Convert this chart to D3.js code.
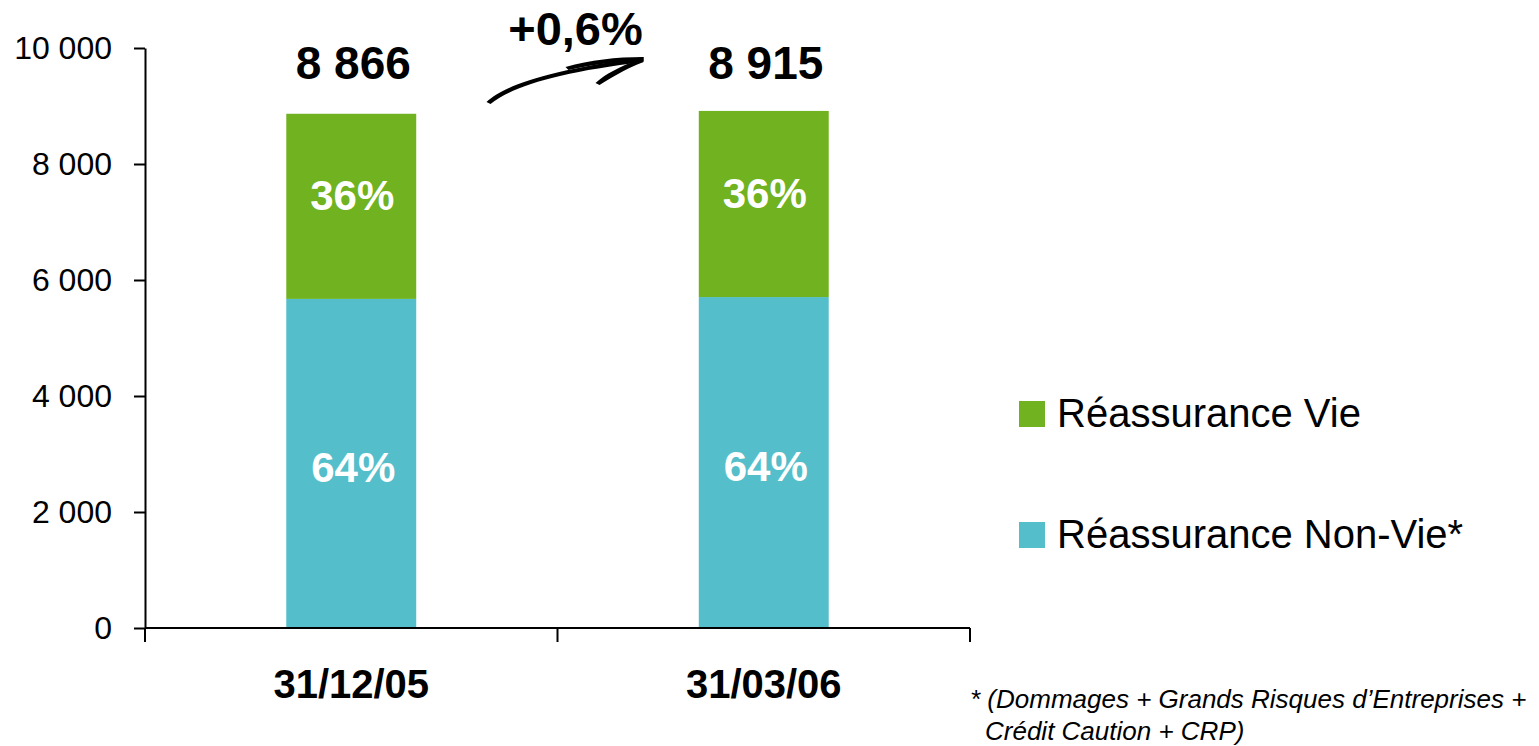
<!DOCTYPE html>
<html><head><meta charset="utf-8">
<script src="https://cdn.jsdelivr.net/npm/d3@7"></script>
<style>body{margin:0;background:#fff} svg{display:block} text{font-family:Arial,"Liberation Sans",sans-serif}</style>
</head><body><svg id="c" width="1539" height="746"></svg>
<script>
const categories = ["31/12/05", "31/03/06"];
const totals = [8866, 8915];
const nonVie = [5674, 5706];
const vie = [3192, 3209];
const nonViePct = ["64%", "64%"];
const viePct = ["36%", "36%"];
const yTicks = [0, 2000, 4000, 6000, 8000, 10000];
const seriesNames = ["Réassurance Vie", "Réassurance Non-Vie*"];
const seriesColors = ["#70B21F", "#55BECB"];
const growthLabel = "+0,6%";
const footnote = ["* (Dommages + Grands Risques d’Entreprises +", "Crédit Caution + CRP)"];

const svg = d3.select("#c");
const fmt = d3.formatLocale({decimal: ",", thousands: "\u00a0", grouping: [3], currency: ["", "€"]}).format(",d");

const y = d3.scaleLinear().domain([0, 10000]).range([628, 48]);
const x = d3.scaleBand().domain(categories).range([145, 970]).paddingInner(0.685).paddingOuter(0.3425);
const bw = x.bandwidth();
const half = (x.step() - bw) / 2;

// bars
const rows = categories.map((c, i) => ({c, i, nv: nonVie[i], v: vie[i], t: totals[i]}));
const g = svg.append("g");
g.selectAll("rect.nv").data(rows).join("rect")
  .attr("x", d => x(d.c)).attr("width", bw)
  .attr("y", d => y(d.nv)).attr("height", d => y(0) - y(d.nv))
  .attr("fill", seriesColors[1]);
g.selectAll("rect.v").data(rows).join("rect")
  .attr("x", d => x(d.c)).attr("width", bw)
  .attr("y", d => y(d.t)).attr("height", d => y(d.nv) - y(d.t))
  .attr("fill", seriesColors[0]);

// percent labels
g.selectAll("text.pnv").data(rows).join("text")
  .attr("x", d => x(d.c) + bw / 2 + 2).attr("y", d => (y(0) + y(d.nv)) / 2 + 4)
  .attr("dy", "0.35em").attr("text-anchor", "middle")
  .attr("fill", "#fff").attr("font-weight", "bold").attr("font-size", 42)
  .text(d => nonViePct[d.i]);
g.selectAll("text.pv").data(rows).join("text")
  .attr("x", d => x(d.c) + bw / 2 + 1).attr("y", d => (y(d.nv) + y(d.t)) / 2 - 11)
  .attr("dy", "0.35em").attr("text-anchor", "middle")
  .attr("fill", "#fff").attr("font-weight", "bold").attr("font-size", 42)
  .text(d => viePct[d.i]);

// totals
g.selectAll("text.tot").data(rows).join("text")
  .attr("x", d => x(d.c) + bw / 2 + 2).attr("y", y(10000) + 31)
  .attr("text-anchor", "middle").attr("font-weight", "bold").attr("font-size", 46)
  .text(d => fmt(d.t));

// y axis
const ya = svg.append("g").attr("transform", `translate(${x.range()[0]},0)`)
  .call(d3.axisLeft(y).tickValues(yTicks).tickSize(11).tickSizeOuter(0).tickPadding(22).tickFormat(fmt));
ya.selectAll("text").attr("font-size", 32).attr("font-family", "Arial, 'Liberation Sans', sans-serif").attr("fill", "#000");
ya.selectAll("line").attr("stroke", "#000").attr("stroke-width", 2);
ya.select(".domain").attr("stroke", "#000").attr("stroke-width", 2);

// x axis
const bounds = categories.map(c => x(c) - half).concat([x(categories[categories.length - 1]) + bw + half]);
svg.append("line").attr("x1", bounds[0]).attr("x2", bounds[bounds.length - 1])
  .attr("y1", y(0)).attr("y2", y(0)).attr("stroke", "#000").attr("stroke-width", 2);
svg.selectAll("line.xt").data(bounds).join("line")
  .attr("x1", d => d).attr("x2", d => d).attr("y1", y(0)).attr("y2", y(0) + 14)
  .attr("stroke", "#000").attr("stroke-width", 2);
svg.selectAll("text.xl").data(categories).join("text")
  .attr("text-anchor", "middle").attr("font-weight", "bold").attr("font-size", 40)
  .attr("transform", c => `translate(${x(c) + bw / 2},${y(0) + 70})`)
  .text(c => c);

// growth annotation
const mid = bounds[1];
const ag = svg.append("g").attr("transform", `translate(${mid},0)`);
ag.append("text").attr("x", 18).attr("y", 45).attr("text-anchor", "middle")
  .attr("font-weight", "bold").attr("font-size", 47).text(growthLabel);
const shapes = [
  "M-71,102 C-52,85 -12,71 86,57 L86,62 C3,72 -45,86 -67,104 Z",
  "M8,67 C33,60 58,57 86,57 L86,61 C58,61 33,65 11,70 Z",
  "M38,83 C48,74 61,67 83,59 L86,62 C65,70 54,78 42,85 Z"
];
ag.selectAll("path").data(shapes).join("path").attr("d", d => d).attr("fill", "#000");

// legend
const lg = svg.append("g").attr("transform", "translate(1019,401)");
const li = lg.selectAll("g").data(seriesNames).join("g").attr("transform", (d, i) => `translate(0,${i * 121})`);
li.append("rect").attr("width", 26).attr("height", 26).attr("fill", (d, i) => seriesColors[i]);
li.append("text").attr("x", 38).attr("y", 26).attr("font-size", 40).text(d => d);

// footnote
svg.selectAll("text.fn").data(footnote).join("text")
  .attr("x", (d, i) => i === 0 ? 970 : 985).attr("y", (d, i) => 708 + i * 32)
  .attr("font-size", 26).attr("font-style", "italic").text(d => d);
</script></body></html>
